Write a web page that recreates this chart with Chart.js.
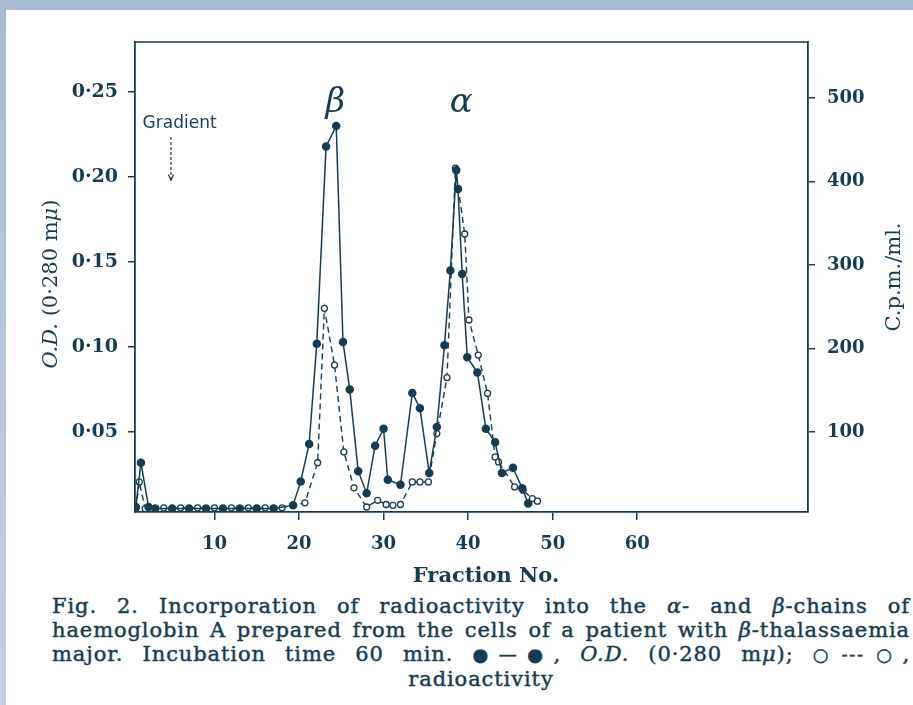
<!DOCTYPE html>
<html>
<head>
<meta charset="utf-8">
<script src="https://cdn.jsdelivr.net/npm/chart.js@4/dist/chart.umd.min.js"></script>
<style>
  html, body { margin: 0; padding: 0; }
  body {
    width: 913px; height: 705px; overflow: hidden; position: relative;
    background: linear-gradient(#a9bbd3, #c3d0e2);
  }
  #paper {
    position: absolute; left: 6px; top: 10px; right: 0; bottom: 0;
    background: #fff;
  }
  #wrap { position: absolute; left: 0; top: 0; width: 913px; height: 590px; }
  #caption {
    position: absolute; left: 52px; top: 594px; width: 858px;
    font-family: "DejaVu Serif", serif; font-size: 21px; line-height: 24px;
    letter-spacing: 0.9px; -webkit-text-stroke: 0.45px #173c52;
    color: #173c52;
  }
  #caption div { text-align: justify; text-align-last: justify; white-space: nowrap; }
  #caption div.last { text-align: center; text-align-last: center; }
  .key { font-size: 18px; white-space: nowrap; letter-spacing: -1px; }
</style>
</head>
<body>
<div id="paper"></div>
<div id="wrap"><canvas id="plot"></canvas></div>
<div id="caption">
  <div>Fig. 2. Incorporation of radioactivity into the <i>α</i>- and <i>β</i>-chains of</div>
  <div>haemoglobin A prepared from the cells of a patient with <i>β</i>-thalassaemia</div>
  <div>major. Incubation time 60 min. <span class="key">●—●</span>, <i>O.D.</i> (0·280 m<i>μ</i>); <span class="key">○&#8201;-&#8201;-&#8201;-&#8201;○</span>,</div>
  <div class="last">radioactivity</div>
</div>
<script>
// O.D. at 280 mμ (filled circles, solid line)
const odFractions = [0.7, 1.3, 2.2, 3, 5, 7, 9, 11, 13, 15, 17, 19.3,
  20.2, 21.2, 22.1, 23.2, 24.4, 25.2, 26.0, 27.0, 28.0, 29.0, 30.0, 30.5,
  32.0, 33.4, 34.3, 35.4, 36.3, 37.2, 37.9, 38.6, 38.8, 39.3, 39.9, 41.1,
  42.1, 43.2, 44.0, 45.3, 46.4, 47.1];
const odValues = [0.006, 0.032, 0.006, 0.005, 0.005, 0.005, 0.005, 0.005, 0.005, 0.005, 0.005, 0.007,
  0.021, 0.043, 0.102, 0.218, 0.230, 0.103, 0.075, 0.027, 0.014, 0.042, 0.052, 0.022,
  0.019, 0.073, 0.064, 0.026, 0.053, 0.101, 0.145, 0.204, 0.193, 0.143, 0.094, 0.085,
  0.052, 0.044, 0.026, 0.029, 0.017, 0.008];

// radioactivity, c.p.m./ml. (open circles, dashed line)
const cpmFractions = [0.7, 1.1, 1.8, 4, 6, 8, 10, 12, 14, 16, 18,
  20.7, 22.2, 23.0, 24.2, 25.3, 26.5, 28.0, 29.3, 30.3, 31.1, 32.0, 33.4,
  34.3, 35.3, 36.3, 37.5, 38.5, 39.6, 40.1, 41.2, 42.3, 43.2, 43.6, 45.5,
  46.5, 47.6, 48.2];
const cpmValues = [8, 40, 8, 9, 9, 9, 9, 9, 9, 9, 9,
  15, 63, 248, 180, 76, 33, 10, 18, 13, 12, 13, 40,
  40, 40, 98, 165, 416, 337, 234, 192, 146, 70, 64, 34,
  30, 20, 17];

const fractionTicks = [10, 20, 30, 40, 50, 60];
const odTicks = [0.05, 0.10, 0.15, 0.20, 0.25];
const cpmTicks = [100, 200, 300, 400, 500];

const ink = "#173c52";
const serif = "'DejaVu Serif', 'Liberation Serif', serif";

// frame, axis titles and hand-written labels
const extras = {
  id: "extras",
  afterDraw(chart) {
    const ctx = chart.ctx;
    const a = chart.chartArea;
    const x = chart.scales.x, y = chart.scales.y;
    ctx.save();
    ctx.strokeStyle = ink;
    ctx.fillStyle = ink;
    ctx.lineWidth = 1.6;
    ctx.beginPath();
    ctx.moveTo(a.left, a.top);
    ctx.lineTo(a.right, a.top);
    ctx.stroke();

    // Fraction No.
    ctx.font = "bold 21px " + serif;
    ctx.textAlign = "center";
    ctx.textBaseline = "alphabetic";
    ctx.fillText("Fraction No.", 486, 582);

    // left title, bottom to top, "O.D." and μ in italic
    ctx.save();
    ctx.translate(57, 284);
    ctx.rotate(-Math.PI / 2);
    const parts = [["O.D.", true], [" (0·280 m", false], ["μ", true], [")", false]];
    const fontOf = (it) => (it ? "italic " : "") + "21px " + serif;
    let total = 0;
    parts.forEach(([t, it]) => { ctx.font = fontOf(it); total += ctx.measureText(t).width; });
    let cx = -total / 2;
    ctx.textAlign = "left";
    parts.forEach(([t, it]) => {
      ctx.font = fontOf(it);
      ctx.fillText(t, cx, 0);
      cx += ctx.measureText(t).width;
    });
    ctx.restore();

    // right title, bottom to top
    ctx.save();
    ctx.translate(900, 277);
    ctx.rotate(-Math.PI / 2);
    ctx.font = "21px " + serif;
    ctx.textAlign = "center";
    ctx.fillText("C.p.m./ml.", 0, 0);
    ctx.restore();

    // Gradient label with dotted arrow
    ctx.font = "17px 'DejaVu Sans', sans-serif";
    ctx.textAlign = "left";
    ctx.fillText("Gradient", x.getPixelForValue(1.5), y.getPixelForValue(0.229));
    const gx = x.getPixelForValue(4.85);
    const gy0 = y.getPixelForValue(0.2235), gy1 = y.getPixelForValue(0.198);
    ctx.lineWidth = 1.2;
    ctx.setLineDash([3, 2]);
    ctx.beginPath();
    ctx.moveTo(gx, gy0);
    ctx.lineTo(gx, gy1);
    ctx.stroke();
    ctx.setLineDash([]);
    ctx.beginPath();
    ctx.moveTo(gx - 2.5, gy1 - 6);
    ctx.lineTo(gx, gy1);
    ctx.lineTo(gx + 2.5, gy1 - 6);
    ctx.stroke();

    // chain labels
    ctx.font = "italic 34px " + serif;
    ctx.textAlign = "center";
    ctx.textBaseline = "middle";
    ctx.fillText("β", x.getPixelForValue(24.3), y.getPixelForValue(0.2435));
    ctx.fillText("α", x.getPixelForValue(39.2), y.getPixelForValue(0.2435));
    ctx.restore();
  }
};

new Chart(document.getElementById("plot"), {
  type: "line",
  data: {
    datasets: [
      {
        label: "O.D.",
        data: odFractions.map((f, i) => ({ x: f, y: odValues[i] })),
        yAxisID: "y",
        borderColor: ink,
        borderWidth: 1.5,
        backgroundColor: ink,
        pointBackgroundColor: ink,
        pointBorderColor: ink,
        pointRadius: 3.5,
        tension: 0,
      },
      {
        label: "radioactivity",
        data: cpmFractions.map((f, i) => ({ x: f, y: cpmValues[i] })),
        yAxisID: "y2",
        borderColor: ink,
        borderWidth: 1.4,
        borderDash: [6, 4],
        pointBackgroundColor: "#fff",
        pointBorderColor: ink,
        pointBorderWidth: 1.3,
        pointRadius: 3,
        tension: 0,
      },
    ],
  },
  options: {
    responsive: true,
    maintainAspectRatio: false,
    animation: false,
    layout: { padding: { top: 42, left: 0, right: 0, bottom: 0 } },
    plugins: { legend: { display: false }, tooltip: { enabled: false } },
    scales: {
      x: {
        type: "linear",
        min: 0.6,
        max: 80.2,
        afterFit: (s) => { s.height = 78; },
        afterBuildTicks: (s) => { s.ticks = fractionTicks.map((v) => ({ value: v })); },
        ticks: { color: ink, padding: 14, font: { family: serif, size: 18, weight: "bold" } },
        grid: { drawOnChartArea: false, drawTicks: true, tickLength: 8, color: ink, lineWidth: 1.5 },
        border: { color: ink, width: 1.8 },
      },
      y: {
        position: "left",
        min: 0.003,
        max: 0.2794,
        afterFit: (s) => { s.width = 135; },
        afterBuildTicks: (s) => { s.ticks = odTicks.map((v) => ({ value: v })); },
        ticks: {
          color: ink, padding: 10,
          font: { family: serif, size: 19, weight: "bold" },
          callback: (v) => v.toFixed(2).replace(".", "·"),
        },
        grid: { drawOnChartArea: false, drawTicks: true, tickLength: 7, color: ink, lineWidth: 1.5 },
        border: { color: ink, width: 1.8 },
      },
      y2: {
        position: "right",
        min: 4,
        max: 567,
        afterFit: (s) => { s.width = 105; },
        afterBuildTicks: (s) => { s.ticks = cpmTicks.map((v) => ({ value: v })); },
        ticks: { color: ink, padding: 12, font: { family: serif, size: 18, weight: "bold" } },
        grid: { drawOnChartArea: false, drawTicks: true, tickLength: 7, color: ink, lineWidth: 1.5 },
        border: { color: ink, width: 1.8 },
      },
    },
  },
  plugins: [extras],
});
</script>
</body>
</html>
